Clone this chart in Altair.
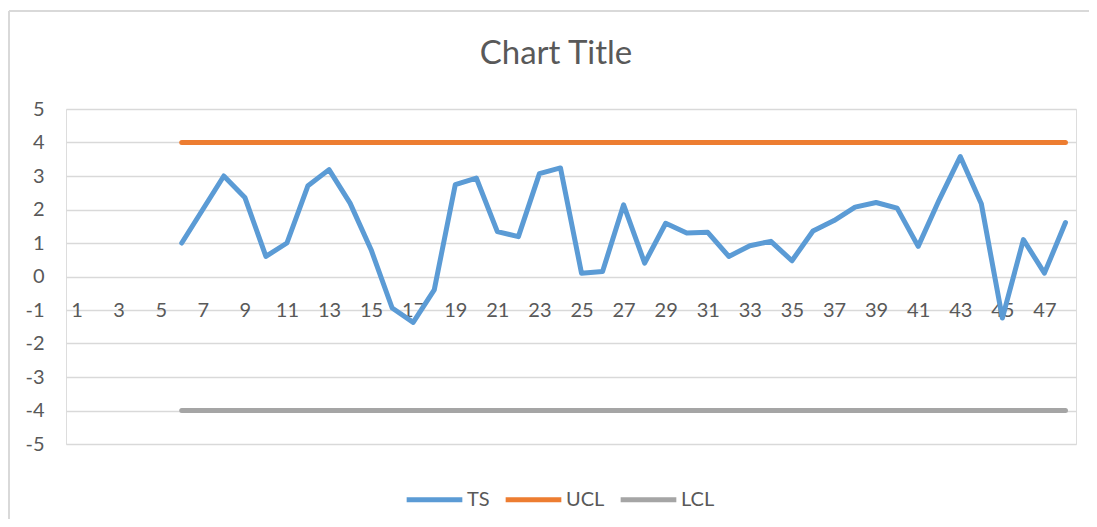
import altair as alt
import pandas as pd

periods = list(range(6, 49))
ts_values = [1.0, 2.0, 3.0, 2.36, 0.6, 1.0, 2.71, 3.19, 2.19, 0.8,
             -0.94, -1.37, -0.4, 2.74, 2.94, 1.34, 1.19, 3.07, 3.24, 0.1,
             0.15, 2.14, 0.4, 1.59, 1.3, 1.32, 0.6, 0.92, 1.05, 0.47,
             1.36, 1.67, 2.07, 2.21, 2.04, 0.9, 2.29, 3.58, 2.17, -1.24,
             1.1, 0.1, 1.61]
ucl_value = 4
lcl_value = -4
series_names = ["TS", "UCL", "LCL"]
series_colors = ["#5B9BD5", "#ED7D31", "#A5A5A5"]
x_labels = list(range(1, 49, 2))
y_ticks = list(range(-5, 6))
chart_title = "Chart Title"

rows = []
for p, v in zip(periods, ts_values):
    rows.append({"x": p, "value": v, "series": "TS", "order": 0})
for p in periods:
    rows.append({"x": p, "value": ucl_value, "series": "UCL", "order": 1})
for p in periods:
    rows.append({"x": p, "value": lcl_value, "series": "LCL", "order": 2})
df = pd.DataFrame(rows)
title_df = pd.DataFrame({"t": [chart_title]})

FONT = "Lato"
GRAY = "#595959"
FRAME = "#D9D9D9"

lines = alt.Chart(df).mark_line(strokeWidth=5, strokeCap="round", strokeJoin="round").encode(
    x=alt.X("x:Q",
            scale=alt.Scale(domain=[0.5, 48.5], nice=False, zero=False),
            axis=alt.Axis(values=x_labels, grid=False, ticks=False, domain=False,
                          title=None, offset=-167, labelPadding=23,
                          labelFontSize=20, labelColor=GRAY, labelFont=FONT,
                          labelFlush=False)),
    y=alt.Y("value:Q",
            scale=alt.Scale(domain=[-5, 5], nice=False),
            axis=alt.Axis(values=y_ticks, grid=True, gridColor="#D9D9D9", gridWidth=1.3,
                          ticks=False, domain=False, title=None, labelPadding=22,
                          labelFontSize=20, labelColor=GRAY, labelFont=FONT,
                          labelExpr="datum.value + ''")),
    color=alt.Color("series:N",
                    scale=alt.Scale(domain=series_names, range=series_colors),
                    legend=alt.Legend(title=None, orient="none", direction="horizontal",
                                      legendX=338, legendY=360,
                                      symbolType="stroke", symbolSize=3100,
                                      symbolStrokeWidth=5, labelFontSize=20,
                                      labelColor=GRAY, labelFont=FONT,
                                      columnPadding=5, labelOffset=2)),
    detail="series:N",
    order="order:Q",
)

frame_top = alt.Chart(title_df).mark_rule(color=FRAME, strokeWidth=2).encode(
    x=alt.value(-57), x2=alt.value(1050), y=alt.value(-98), y2=alt.value(-98)
)
frame_left = alt.Chart(title_df).mark_rule(color=FRAME, strokeWidth=2).encode(
    x=alt.value(-57), x2=alt.value(-57), y=alt.value(-98), y2=alt.value(430)
)
title = alt.Chart(title_df).mark_text(
    fontSize=33, font=FONT, color=GRAY, align="center", baseline="middle"
).encode(text="t:N", x=alt.value(490), y=alt.value(-55))

chart = alt.layer(frame_top, frame_left, title, lines).properties(
    width=1010,
    height=335,
    autosize=alt.AutoSizeParams(type="none"),
    padding={"left": 58, "top": 101, "right": 13, "bottom": 75},
).configure_view(stroke=None).configure(background="white")

chart.save("out.html", embed_options={"renderer": "svg", "actions": False})
